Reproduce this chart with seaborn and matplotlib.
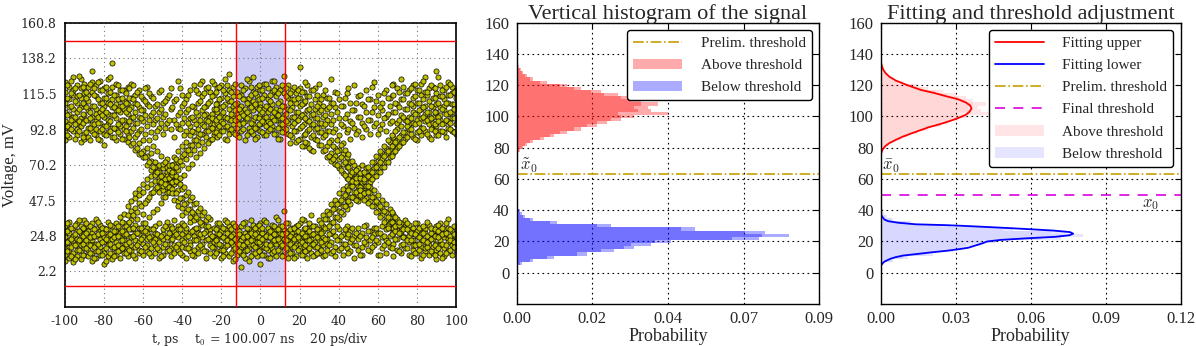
import numpy as np
import matplotlib
matplotlib.use('Agg')
import matplotlib.pyplot as plt
import seaborn as sns

sns.set_style('white')
plt.rcParams['font.family'] = ['Liberation Serif', 'DejaVu Serif']
plt.rcParams['mathtext.fontset'] = 'cm'

# ---- eye diagram samples, read column by column (even ps) ----
eye_t = list(range(-100, 101, 2))
eye_v = [
    "26 13 31 20 9 24 17 104 91 117 98 110 123 86",        # -100
    "18 29 22 11 34 15 27 96 112 88 120 103 107 94",
    "21 8 30 25 14 19 115 99 92 126 106 101 118",
    "33 16 23 12 28 20 89 110 97 121 104 114 93",
    "24 10 19 31 27 15 22 107 85 119 100 113 95 125",
    "17 29 13 35 21 26 98 116 90 109 102 122 87",          # -90
    "12 25 20 31 16 28 111 94 105 120 88 99 115",
    "27 14 22 9 33 19 24 101 123 92 108 117 96 130",
    "20 30 15 25 11 36 114 89 106 98 121 103 93",
    "23 13 28 18 32 26 97 110 86 118 104 92 124",
    "16 27 21 7 30 24 14 108 95 119 101 90 113 83",        # -80
    "29 19 12 25 34 22 91 116 103 99 125 110 96",
    "14 23 31 18 26 10 120 94 107 88 112 102 135",
    "25 17 28 13 21 33 100 115 93 109 86 122 105",
    "19 30 11 24 16 37 27 112 97 104 90 118 95 108",
    "22 14 28 33 18 26 39 118 93 106 99 111 87",           # -70
    "31 20 12 25 17 44 38 96 109 120 90 103 85",
    "24 15 29 19 35 41 47 83 113 100 92 107 122",
    "18 27 11 22 32 49 43 52 88 80 104 115 97 110",
    "26 14 21 30 16 46 55 51 84 77 92 101 118 107",
    "20 28 13 24 33 53 39 58 79 86 75 98 112 105",         # -60
    "15 23 30 19 27 56 48 61 81 70 76 95 109 120",
    "22 12 29 17 25 52 63 58 73 67 78 102 91 114",
    "27 19 31 14 23 60 55 65 72 64 69 99 108 88",
    "21 33 16 25 11 57 62 67 53 70 66 60 94 117 104",
    "18 26 29 13 23 59 54 64 68 50 62 71 57 101 90 110",   # -50
    "24 15 30 20 34 56 61 66 52 63 58 69 74 97 113",
    "12 27 22 17 31 60 64 55 68 57 62 70 59 106 93 119",
    "25 19 35 28 14 63 58 66 52 48 71 60 75 99 111 88",
    "20 31 16 24 29 54 47 59 44 72 67 79 102 94 124",
    "13 26 22 33 18 49 43 55 38 76 70 82 108 97 115",      # -40
    "28 17 24 11 30 46 40 51 80 74 85 92 104 112",
    "21 34 15 27 19 42 37 48 83 77 89 100 118 95",
    "25 12 29 22 16 39 45 35 86 80 91 107 99 121",
    "18 30 23 14 27 36 41 88 83 93 110 102 116",
    "26 20 33 17 24 38 32 90 85 96 105 114 124",           # -30
    "15 28 22 11 31 35 92 88 99 108 119 103",
    "23 19 29 14 26 36 94 86 111 101 117 97",
    "30 17 24 12 21 89 106 96 115 100 122 91",
    "20 27 15 33 23 97 110 88 104 119 93",
    "16 25 31 19 11 28 102 92 113 98 121 107",             # -20
    "22 14 29 24 35 18 95 109 87 116 101 125",
    "27 20 12 31 23 106 93 118 99 111 90 128",
    "19 33 16 26 9 22 100 114 91 108 96 120",
    "24 13 30 21 17 28 94 117 103 89 110 99",
    "31 18 25 14 22 5 108 97 121 92 104 115",              # -10
    "15 27 20 34 11 24 98 112 86 106 119 101",
    "23 29 17 9 26 20 113 94 102 124 91 109",
    "28 14 22 32 19 25 90 105 117 99 111 96 126",
    "18 31 12 24 27 21 101 93 114 107 88 120",
    "25 16 29 20 7 33 110 96 103 118 92 107",              # 0
    "13 22 27 35 18 24 97 115 89 106 100 122",
    "30 19 24 11 26 16 104 92 112 98 119 108",
    "21 28 14 23 32 17 93 109 101 117 95 124",
    "26 12 20 29 37 22 106 99 114 90 103 120",
    "17 24 31 15 21 27 111 96 87 105 118 100",             # 10
    "23 29 13 19 41 26 94 102 116 108 91 127",
    "28 16 22 33 11 25 99 113 90 106 121 97",
    "14 21 27 18 30 24 107 95 118 101 88 112",
    "25 31 19 12 23 28 92 104 110 98 116 85",
    "20 15 26 33 17 22 101 94 119 108 87 113 133",         # 20
    "29 13 24 18 35 21 96 110 89 103 117 82",
    "16 27 22 11 30 25 105 92 114 99 84 121",
    "23 19 31 14 26 38 88 109 96 102 118 80",
    "21 13 27 18 31 87 100 93 112 106 119",
    "25 17 29 14 22 35 83 91 97 110 104 122",              # 30
    "19 28 12 24 38 31 79 88 95 108 101 115",
    "23 16 30 20 36 41 82 75 92 99 113 106",
    "27 14 21 33 40 45 78 86 73 96 110 103 125",
    "18 25 12 37 43 48 81 71 76 93 107 117",
    "22 29 16 41 46 36 52 74 80 68 100 89 112",            # 40
    "26 13 20 44 50 39 55 77 65 71 95 108 84",
    "17 24 31 47 53 42 57 69 75 62 103 91 116",
    "21 15 28 50 56 45 60 72 64 67 98 110 87",
    "25 19 11 53 49 58 62 66 70 61 105 94 121",
    "23 30 16 55 51 60 47 63 68 57 92 101 114",            # 50
    "18 27 13 58 54 61 50 65 59 70 97 109 88",
    "24 20 32 62 55 49 57 64 68 53 104 93 118",
    "15 28 22 64 59 67 52 56 47 99 112 90",
    "26 19 30 68 63 72 50 44 54 95 107 123",
    "21 13 27 70 66 75 46 41 51 102 90 115",               # 60
    "17 24 31 74 69 78 43 38 48 96 110 105",
    "22 29 14 77 72 81 40 35 45 101 118 92",
    "25 18 30 80 75 85 37 42 33 108 97 113",
    "20 12 27 83 78 88 34 39 30 104 115 122",
    "23 16 29 86 81 36 31 97 109 119 93",                  # 70
    "19 26 14 89 84 33 28 102 112 95 125",
    "24 17 31 91 87 30 35 106 99 116",
    "21 28 13 25 93 32 110 101 118 96",
    "16 30 22 19 27 88 104 113 97 121 108",
    "25 14 28 20 33 99 91 110 103 118 86",                 # 80
    "18 26 23 11 30 106 94 115 100 122 89",
    "29 15 21 27 17 92 108 98 117 103 126",
    "22 32 13 24 19 111 96 104 88 119 100",
    "26 18 28 14 23 101 113 93 107 120 97",
    "20 31 16 25 10 95 109 104 116 89 130",                # 90
    "27 14 22 33 19 107 99 114 92 121 102",
    "17 24 29 12 26 112 97 105 118 91 108",
    "23 30 15 21 36 98 110 103 94 123 115",
    "28 19 25 13 22 104 92 116 100 109 120",
    "21 27 16 31 24 96 113 101 107 118 90",                # 100
]

# ---- eye diagram samples, odd ps columns ----
eye_t_odd = list(range(-99, 100, 2))
eye_v_odd = [
    "15 28 21 33 95 113 102 121 89",                       # -99
    "23 12 30 18 108 93 116 99 124",
    "19 26 10 32 101 87 111 119 96",
    "28 16 22 35 92 106 115 98 127",
    "13 25 30 20 110 97 120 88 103",
    "22 33 17 27 99 117 91 107 113",                       # -89
    "31 14 24 19 104 94 122 100 86",
    "18 29 11 25 115 90 108 96 119",
    "26 20 34 15 97 112 101 87 123",
    "21 30 13 27 106 93 118 102 110",
    "29 17 23 9 95 113 89 120 104",                        # -79
    "14 26 32 20 109 98 117 92 126",
    "24 12 28 18 102 115 94 107 88",
    "31 19 25 15 96 112 105 121 91",
    "17 28 22 34 113 99 108 87 118",
    "26 14 20 31 104 95 116 92 110",                       # -69
    "21 29 16 34 88 106 98 119 113",
    "25 13 30 38 84 101 112 94 121",
    "19 27 36 40 81 97 109 117 90",
    "23 15 30 44 78 93 105 114 100",
    "28 18 33 46 75 90 102 111 119",                       # -59
    "14 24 37 50 72 86 99 108 116",
    "21 29 40 53 69 82 96 104 113",
    "17 26 42 56 66 79 100 109 92",
    "25 12 46 59 63 76 97 106 118",
    "20 31 50 61 72 58 94 103 111",                        # -49
    "16 27 53 62 67 70 56 99 115",
    "23 30 55 59 64 66 70 52 107",
    "18 26 60 69 52 74 63 96 112",
    "29 14 73 62 49 58 104 93 119",
    "21 32 77 64 45 56 100 110 89",                        # -39
    "25 17 80 68 42 53 97 115 106",
    "13 28 83 71 40 50 92 108 101",
    "22 30 86 75 37 46 104 96 118",
    "19 26 78 90 43 34 111 99 122",
    "27 15 81 40 95 107 116 102",                          # -29
    "23 31 84 37 98 110 92 120",
    "18 25 87 103 94 114 100 124",
    "29 14 22 91 106 117 99 109",
    "20 33 26 101 89 112 120 95",
    "16 24 30 12 108 97 118 92 104",                       # -19
    "27 19 34 22 95 113 100 86 121",
    "14 29 21 25 111 103 93 117 99",
    "23 31 17 10 99 90 109 122 105",
    "28 20 26 15 106 96 114 101 88",
    "19 33 24 13 93 112 102 118 97",                       # -9
    "25 16 30 21 104 89 110 100 125",
    "12 27 22 35 97 115 107 92 120",
    "30 18 26 14 109 101 94 116 87",
    "21 32 15 24 100 112 96 121 106",
    "27 13 23 30 113 91 104 98 118",                       # 1
    "17 25 34 20 95 108 101 122 89",
    "24 11 28 19 106 97 115 93 111",
    "31 22 15 26 99 118 90 104 124",
    "16 29 23 35 102 94 110 87 116",
    "26 19 12 31 108 100 121 96 91",                       # 11
    "22 33 17 27 93 114 103 119 98",
    "29 14 25 20 110 89 105 116 84",
    "18 30 23 11 97 120 101 92 112",
    "24 16 32 28 104 86 113 99 118",
    "13 27 21 36 95 109 82 117 102",                       # 21
    "30 19 25 15 111 90 100 123 85",
    "22 28 17 33 98 106 81 114 93",
    "26 12 31 20 89 103 118 96 79",
    "18 29 24 14 86 100 108 94 115",
    "27 21 33 16 83 91 105 112 97",                        # 31
    "23 13 36 30 80 89 102 118 96",
    "19 26 39 31 76 92 85 107 113",
    "28 15 42 34 74 82 99 110 91",
    "22 31 45 37 70 86 79 104 116",
    "17 25 48 40 67 83 75 96 108",                         # 41
    "29 20 51 44 64 80 72 100 113",
    "14 26 54 47 61 77 69 93 119",
    "23 30 57 50 60 73 66 105 97",
    "19 27 48 53 59 67 62 110 90",
    "25 13 51 56 62 65 54 101 115",                        # 51
    "21 31 66 60 52 61 48 95 108",
    "16 28 69 63 57 46 53 112 99",
    "24 18 72 66 61 44 50 104 120",
    "30 22 76 69 63 40 47 97 111",
    "13 27 79 72 66 37 44 107 93",                         # 61
    "25 19 82 76 69 34 41 116 100",
    "21 31 86 79 72 30 37 103 113",
    "17 26 89 82 76 34 40 98 121",
    "28 23 92 85 79 31 37 110 104",
    "15 32 88 82 27 34 117 99 107",                        # 71
    "24 20 91 85 24 29 112 101 120",
    "29 17 95 88 22 33 106 116 98",
    "22 12 27 93 109 100 119 90",
    "26 19 33 14 103 96 114 87 122",
    "20 30 16 24 97 110 92 118 105",                       # 81
    "31 22 13 27 112 101 94 107 124",
    "18 25 34 21 99 115 90 104 117",
    "27 15 23 30 108 93 121 100 87",
    "13 29 19 25 96 113 104 119 92",
    "24 32 17 28 101 89 110 98 126",                       # 91
    "30 20 26 11 114 96 106 92 118",
    "19 27 14 33 103 110 88 120 99",
    "25 16 29 22 97 115 104 93 122",
    "21 31 18 26 109 100 117 91 106",                      # 99
]

volt_ticks = ['2.2', '24.8', '47.5', '70.2', '92.8', '115.5', '138.2', '160.8']
time_ticks = [-100, -80, -60, -40, -20, 0, 20, 40, 60, 80, 100]
mask_h = [-7.0, 149.0]
mask_t = [-12.5, 12.5]

# ---- histogram of the signal (probability per bin) ----
hist_upper_v = [78, 80, 82, 84, 86, 88, 90, 92, 94, 96, 98, 100, 102, 104, 106,
                108, 110, 112, 114, 116, 118, 120, 122, 124, 126, 128, 130, 132, 134]
hist_upper_a = [0.001, 0.002, 0.003, 0.005, 0.008, 0.011, 0.015, 0.019, 0.024, 0.027,
                0.031, 0.035, 0.045, 0.040, 0.039, 0.042, 0.037, 0.034, 0.030, 0.025,
                0.019, 0.015, 0.009, 0.005, 0.003, 0.002, 0.0012, 0.0008, 0.0004]
hist_upper_b = [0.0006, 0.0015, 0.0025, 0.004, 0.007, 0.010, 0.013, 0.017, 0.021, 0.024,
                0.028, 0.031, 0.030, 0.036, 0.035, 0.037, 0.034, 0.031, 0.026, 0.022,
                0.017, 0.013, 0.007, 0.004, 0.0025, 0.0015, 0.001, 0.0005, 0.0002]
hist_lower_v = [4, 6, 8, 10, 12, 14, 16, 18, 20, 22, 24, 26, 28, 30, 32, 34, 36, 38, 40, 42]
hist_lower_a = [0.0005, 0.0015, 0.005, 0.011, 0.021, 0.029, 0.035, 0.040, 0.046, 0.072,
                0.081, 0.074, 0.053, 0.028, 0.012, 0.005, 0.0025, 0.0015, 0.001, 0.0005]
hist_lower_b = [0.0003, 0.001, 0.004, 0.009, 0.018, 0.025, 0.032, 0.034, 0.041, 0.064,
                0.073, 0.068, 0.049, 0.024, 0.010, 0.004, 0.002, 0.001, 0.0006, 0.0003]

# ---- fitted curves ----
fit_upper_v = [75, 77, 79, 81, 83, 85, 87, 89, 91, 93, 95, 97, 99, 101, 103, 105,
               107, 109, 111, 113, 115, 117, 120, 123, 125.5, 128, 130, 132, 135]
fit_upper_p = [0.0, 0.0003, 0.0008, 0.0018, 0.0035, 0.006, 0.0087, 0.012, 0.0155, 0.019,
               0.0235, 0.0275, 0.031, 0.034, 0.0355, 0.0363, 0.0358, 0.034, 0.031, 0.026,
               0.0215, 0.016, 0.0107, 0.006, 0.0034, 0.0018, 0.001, 0.0005, 0.0]
fit_lower_v = [4, 5, 6, 7, 8, 9, 10, 11, 12, 13, 14, 15, 16, 17, 18, 19, 20, 21, 22,
               23, 24, 25, 26, 27, 28, 29, 30, 30.5, 31, 32, 33, 34, 36, 38]
fit_lower_p = [0.0, 0.0003, 0.0007, 0.0014, 0.0026, 0.004, 0.006, 0.009, 0.0145, 0.020,
               0.026, 0.031, 0.035, 0.037, 0.039, 0.041, 0.0425, 0.048, 0.058, 0.070,
               0.0755, 0.077, 0.0757, 0.069, 0.058, 0.046, 0.033, 0.025, 0.014, 0.007,
               0.003, 0.0015, 0.0005, 0.0]

thr_prelim = 63.0
thr_final = 49.5
prob_ticks2 = ['0.00', '0.02', '0.04', '0.07', '0.09']
prob_ticks3 = ['0.00', '0.03', '0.06', '0.09', '0.12']
volt_ticks2 = [0, 20, 40, 60, 80, 100, 120, 140, 160]

gold = '#c8a000'
eye_t_all, eye_v_all = [], []
for ts, rows in [(eye_t, eye_v), (eye_t_odd, eye_v_odd)]:
    for t, row in zip(ts, rows):
        vals = [float(s) for s in row.split()]
        eye_t_all += [t] * len(vals)
        eye_v_all += vals

fig = plt.figure(figsize=(11.96, 3.46), dpi=100)
ax1 = fig.add_axes([0.0543, 0.1127, 0.327, 0.821])
ax2 = fig.add_axes([0.432, 0.1214, 0.253, 0.813])
ax3 = fig.add_axes([0.7364, 0.1214, 0.2508, 0.813])

# ---------------- panel 1: eye diagram ----------------
ax1.fill_between(mask_t, mask_h[0], mask_h[1], color='#cdcdf5', lw=0, zorder=0)
sns.scatterplot(x=eye_t_all, y=eye_v_all, s=14, color='#c0c000',
                edgecolor='black', linewidth=0.5, ax=ax1, zorder=2)
for h in mask_h:
    ax1.axhline(h, color='red', lw=1.0, zorder=3)
for t in mask_t:
    ax1.axvline(t, color='red', lw=1.0, zorder=3)
ax1.set_xlim(-100, 100)
ax1.set_ylim(-20.46, 160.8)
ax1.set_xticks(time_ticks)
ax1.set_yticks([float(v) for v in volt_ticks])
ax1.set_xticklabels([str(t) for t in time_ticks], family='DejaVu Serif', fontsize=9)
ax1.set_yticklabels(volt_ticks, family='DejaVu Serif', fontsize=9)
ax1.tick_params(length=0, pad=6)
ax1.grid(True, ls=(0, (1, 3)), color='#777777', lw=0.8)
ax1.set_xlabel('t, ps    t$_0$ = 100.007 ns    20 ps/div', family='DejaVu Serif',
               fontsize=9, labelpad=2)
ax1.set_ylabel('Voltage, mV', fontsize=12, labelpad=2)
for sp in ax1.spines.values():
    sp.set_color('black')
    sp.set_linewidth(1.2)

# ---------------- panel 2: vertical histogram ----------------
sns.histplot(y=hist_upper_v, weights=hist_upper_a, binwidth=2, binrange=(77, 135),
             color='red', alpha=0.33, linewidth=0, ax=ax2, label='Above threshold')
sns.histplot(y=hist_upper_v, weights=hist_upper_b, binwidth=2, binrange=(77, 135),
             color='red', alpha=0.33, linewidth=0, ax=ax2)
sns.histplot(y=hist_lower_v, weights=hist_lower_a, binwidth=2, binrange=(3, 43),
             color='blue', alpha=0.33, linewidth=0, ax=ax2, label='Below threshold')
sns.histplot(y=hist_lower_v, weights=hist_lower_b, binwidth=2, binrange=(3, 43),
             color='blue', alpha=0.33, linewidth=0, ax=ax2)
ax2.axhline(thr_prelim, color=gold, ls='-.', lw=1.2, label='Prelim. threshold')
ax2.text(0.001, 65.5, r'$\tilde{x}_0$', fontsize=12)
ax2.set_title('Vertical histogram of the signal', fontsize=16, pad=3)

# ---------------- panel 3: fits and threshold ----------------
sns.histplot(y=hist_upper_v, weights=hist_upper_a, binwidth=2, binrange=(77, 135),
             color='red', alpha=0.1, linewidth=0, ax=ax3, label='Above threshold')
sns.histplot(y=hist_upper_v, weights=hist_upper_b, binwidth=2, binrange=(77, 135),
             color='red', alpha=0.06, linewidth=0, ax=ax3)
sns.histplot(y=hist_lower_v, weights=hist_lower_a, binwidth=2, binrange=(3, 43),
             color='blue', alpha=0.1, linewidth=0, ax=ax3, label='Below threshold')
sns.histplot(y=hist_lower_v, weights=hist_lower_b, binwidth=2, binrange=(3, 43),
             color='blue', alpha=0.06, linewidth=0, ax=ax3)
sns.lineplot(x=fit_upper_p, y=fit_upper_v, sort=False, estimator=None,
             color='red', lw=1.3, ax=ax3, label='Fitting upper')
sns.lineplot(x=fit_lower_p, y=fit_lower_v, sort=False, estimator=None,
             color='blue', lw=1.3, ax=ax3, label='Fitting lower')
ax3.axhline(thr_prelim, color=gold, ls='-.', lw=1.2, label='Prelim. threshold')
ax3.axhline(thr_final, color='#dd00dd', ls=(0, (6, 5)), lw=1.2, label='Final threshold')
ax3.text(0.0005, 65.5, r'$\bar{x}_0$', fontsize=12)
ax3.text(0.108, 44, r'$x_0$', fontsize=12, ha='center', va='center')
ax3.set_title('Fitting and threshold adjustment', fontsize=16, pad=3)

for ax, xmax, labels in [(ax2, 0.09, prob_ticks2), (ax3, 0.12, prob_ticks3)]:
    ax.set_xlim(0, xmax)
    ax.set_ylim(-20, 160)
    ax.set_xticks(np.linspace(0, xmax, len(labels)))
    ax.set_xticklabels(labels, fontsize=12)
    ax.set_yticks(volt_ticks2)
    ax.set_yticklabels([str(v) for v in volt_ticks2], fontsize=12)
    ax.tick_params(direction='in', length=4, top=True, right=True, pad=5, color='black')
    ax.grid(True, ls=(0, (1.5, 3)), color='black', lw=0.8)
    ax.set_xlabel('Probability', fontsize=13, labelpad=1)
    ax.set_ylabel('')
    for sp in ax.spines.values():
        sp.set_color('black')
        sp.set_linewidth(1.0)
    leg = ax.legend(loc='upper right', fontsize=11, fancybox=True, framealpha=1,
                    edgecolor='black', borderaxespad=0.5, handlelength=3.2,
                    handletextpad=1.2, borderpad=0.4, labelspacing=0.55)
    leg.get_frame().set_linewidth(1.0)

fig.savefig('out.png', dpi=100)
